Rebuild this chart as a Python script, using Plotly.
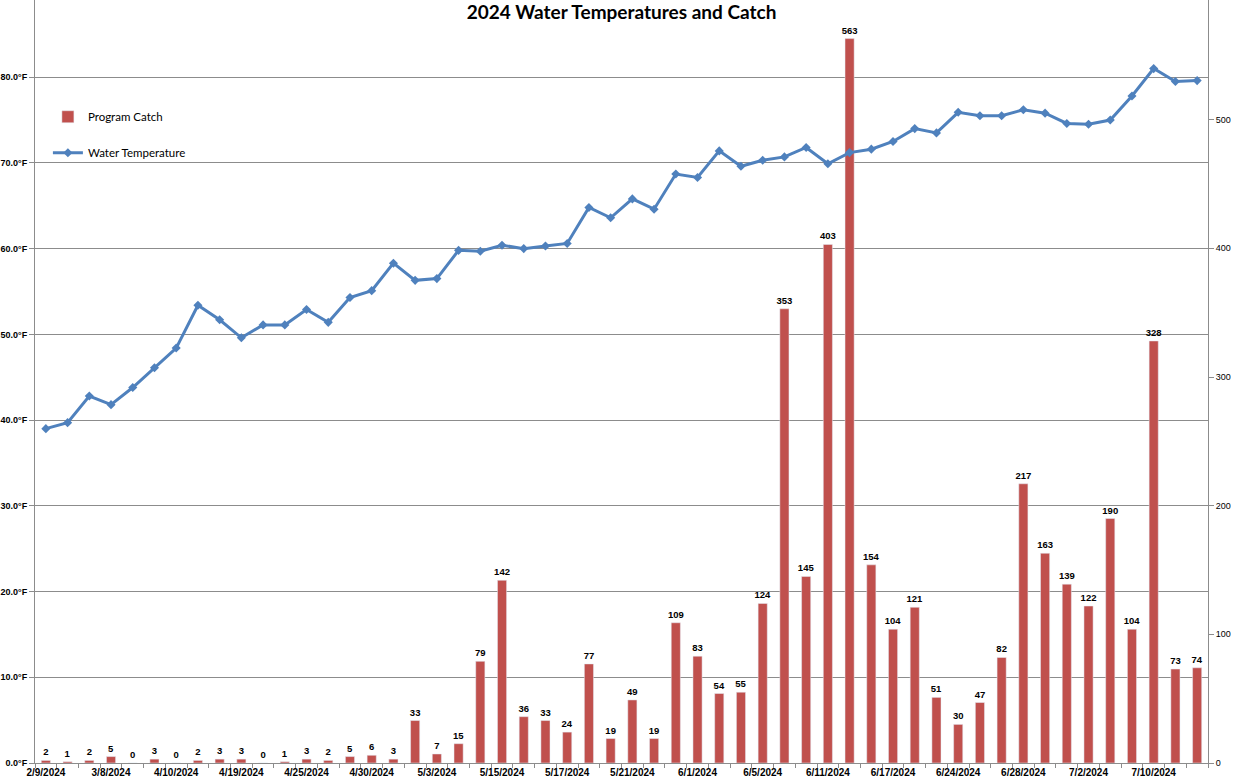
import plotly.graph_objects as go

# ---- data ----
catch = [2, 1, 2, 5, 0, 3, 0, 2, 3, 3, 0, 1, 3, 2, 5, 6, 3, 33, 7, 15,
         79, 142, 36, 33, 24, 77, 19, 49, 19, 109, 83, 54, 55, 124, 353, 145, 403, 563, 154, 104,
         121, 51, 30, 47, 82, 217, 163, 139, 122, 190, 104, 328, 73, 74]
water_temp = [39.0, 39.7, 42.8, 41.8, 43.8, 46.1, 48.4, 53.4, 51.7, 49.6,
              51.1, 51.1, 52.9, 51.4, 54.3, 55.1, 58.3, 56.3, 56.5, 59.8,
              59.7, 60.4, 60.0, 60.3, 60.6, 64.8, 63.6, 65.8, 64.6, 68.7,
              68.3, 71.4, 69.6, 70.3, 70.7, 71.8, 69.9, 71.2, 71.6, 72.5,
              74.0, 73.5, 75.9, 75.5, 75.5, 76.2, 75.8, 74.6, 74.5, 75.0,
              77.8, 81.0, 79.5, 79.6]
tick_labels = ["2/9/2024", "3/8/2024", "4/10/2024", "4/19/2024", "4/25/2024", "4/30/2024",
               "5/3/2024", "5/15/2024", "5/17/2024", "5/21/2024", "6/1/2024", "6/5/2024",
               "6/11/2024", "6/17/2024", "6/24/2024", "6/28/2024", "7/2/2024", "7/10/2024"]
label_every = 3

x_idx = list(range(len(catch)))
tick_vals = x_idx[::label_every][:len(tick_labels)]

BAR = "#C0504D"
LINE = "#4F81BD"
GRID = "#8C8C8C"
FONT = "Liberation Sans"

fig = go.Figure()
fig.add_trace(go.Bar(
    x=x_idx, y=catch, name="Program Catch", marker_color=BAR,
    text=[str(v) for v in catch], textposition="outside", constraintext="none",
    textfont=dict(family=FONT, size=9.5, color="black", weight="bold"),
    cliponaxis=False, yaxis="y", legendgroup="a",
))
fig.add_trace(go.Scatter(
    x=x_idx, y=water_temp, name="Water Temperature", mode="lines+markers",
    line=dict(color=LINE, width=3), marker=dict(symbol="diamond", size=7, color=LINE),
    yaxis="y2", legendgroup="b",
))

fig.update_layout(
    width=1237, height=781,
    margin=dict(l=35, r=29, t=0, b=18),
    paper_bgcolor="white", plot_bgcolor="white",
    bargap=0.58,
    title=dict(text="<b>2024 Water Temperatures and Catch</b>", x=0.5, xanchor="center",
               xref="paper", yref="container", y=1 - 12 / 781, yanchor="middle",
               font=dict(family="Lato", size=19, color="black")),
    font=dict(family=FONT, color="black"),
    xaxis=dict(
        range=[-0.5, len(catch) - 0.5], tickmode="array", tickvals=tick_vals, ticktext=tick_labels,
        ticks="", showgrid=False, showline=True, linecolor=GRID, linewidth=1,
        tickfont=dict(family=FONT, size=10, color="black", weight="bold"),
        minor=dict(tickmode="linear", tick0=0.5, dtick=1, ticks="outside", ticklen=4,
                   tickcolor=GRID, showgrid=False),
        zeroline=False,
    ),
    yaxis=dict(
        side="right", range=[0, 593], tickmode="linear", tick0=0, dtick=100,
        showgrid=False, zeroline=False, showline=True, linecolor=GRID, linewidth=1,
        ticks="outside", ticklen=5, tickcolor=GRID,
        tickfont=dict(family=FONT, size=9, color="black"),
    ),
    yaxis2=dict(
        side="left", overlaying="y", range=[0, 89], tickmode="linear", tick0=0, dtick=10,
        tickformat=".1f", ticksuffix="°F",
        showgrid=True, gridcolor=GRID, gridwidth=1, zeroline=False,
        showline=True, linecolor=GRID, linewidth=1,
        ticks="outside", ticklen=5, tickcolor=GRID,
        tickfont=dict(family=FONT, size=9, color="black", weight="bold"),
    ),
    legend=dict(x=0.011, y=0.866, xanchor="left", yanchor="top", bgcolor="rgba(0,0,0,0)",
                font=dict(family="Lato", size=11.5, color="black"), tracegroupgap=17),
    showlegend=True,
)

fig.write_html(
    "out.html",
    config={"displayModeBar": False},
    post_script="document.body.style.margin='0';document.body.style.overflow='hidden';",
)
